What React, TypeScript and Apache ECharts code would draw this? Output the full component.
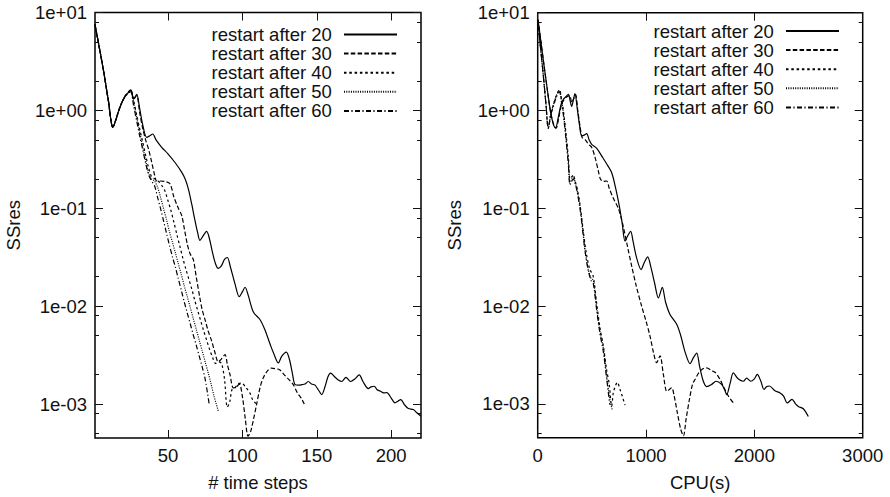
import React, { useEffect, useRef } from 'react';
import * as echarts from 'echarts';

const SERIES_NAMES = ['restart after 20', 'restart after 30', 'restart after 40', 'restart after 50', 'restart after 60'];

// Left panel: SSres vs # time steps
const LEFT_20 = [[1,7.5],[4,4.3],[7,2.4],[10,1.25],[13,0.67],[15,0.8],[17,1.0],[19,1.2],[21,1.38],[23,1.5],[25,1.62],[27,1.3],[29,1.46],[31,1.05],[33,0.72],[35.7,0.53],[37.8,0.55],[39.8,0.574],[42,0.5],[45.8,0.42],[50,0.36],[55,0.29],[59.2,0.234],[61.5,0.2],[63.7,0.158],[66,0.11],[68,0.077],[70,0.056],[71.5,0.047],[73.5,0.052],[76,0.058],[78,0.048],[80,0.035],[82,0.027],[83.8,0.0243],[86,0.026],[88,0.03],[89.9,0.0314],[92,0.025],[95,0.017],[97.9,0.0125],[100,0.014],[101.8,0.0156],[104,0.0128],[107.4,0.0087],[111.8,0.0073],[115,0.0058],[118.6,0.0041],[121,0.0033],[124.2,0.00263],[126.4,0.00307],[129.5,0.0034],[131.5,0.0029],[133.5,0.0021],[135.4,0.00158],[138,0.00156],[140,0.00158],[142,0.0016],[144.3,0.0017],[146.5,0.0016],[148.8,0.00156],[151,0.0014],[153.3,0.00125],[155.5,0.0015],[157.5,0.0019],[159.3,0.00207],[162,0.0019],[164.5,0.00176],[166.7,0.0017],[169.6,0.00187],[172.7,0.0017],[175.5,0.0018],[178.5,0.00199],[181,0.0017],[184.6,0.00144],[186.5,0.0015],[188.6,0.00152],[190.5,0.0014],[192.5,0.00136],[195,0.0013],[197,0.00131],[200,0.00115],[202.5,0.00103],[204.5,0.00107],[206.4,0.00111],[209,0.00098],[211.5,0.0009],[214.8,0.00088],[217,0.00082],[220,0.00075]];
const LEFT_30 = [[1,7.5],[4,4.3],[7,2.4],[10,1.25],[13,0.67],[15,0.8],[17,1.0],[19,1.2],[21,1.38],[23,1.5],[25,1.6],[27,1.3],[29,1.42],[31,0.95],[33,0.66],[35,0.5],[37,0.4],[39,0.3],[41,0.22],[42.5,0.19],[45,0.19],[48,0.188],[51.4,0.178],[54,0.13],[57,0.1],[59.2,0.085],[61,0.062],[63,0.043],[64.8,0.0345],[67,0.03],[69,0.02],[71.5,0.012],[73,0.0092],[75,0.0072],[77,0.0056],[79.4,0.0044],[81.5,0.0034],[83.8,0.0027],[86,0.0029],[88.3,0.0032],[90,0.0025],[91.7,0.002],[93.9,0.00146],[96,0.0015],[98,0.0016],[100,0.0012],[102,0.0007],[103.8,0.00047],[105.5,0.00052],[107.5,0.0007],[109.6,0.001],[112,0.0015],[114,0.00185],[117,0.0022],[119.6,0.00233],[122,0.0023],[125,0.00224],[128,0.002],[131,0.0018],[134.2,0.00158],[137,0.0013],[139.5,0.00115],[141.6,0.001]];
const LEFT_40 = [[1,7.5],[4,4.3],[7,2.4],[10,1.25],[13,0.67],[15,0.8],[17,1.0],[19,1.2],[21,1.38],[23,1.52],[25,1.62],[27,1.25],[29,0.9],[31,0.65],[33,0.48],[35,0.35],[37,0.26],[39,0.21],[41,0.2],[43.5,0.19],[46,0.17],[48,0.15],[50,0.12],[52,0.095],[54,0.072],[56,0.054],[58,0.041],[60,0.031],[62,0.024],[64,0.019],[66,0.015],[68,0.0115],[70,0.009],[72,0.0071],[74,0.0056],[76,0.0045],[78,0.0036],[80,0.003],[82,0.0026],[84,0.0027],[86,0.0026],[88,0.0018],[89.9,0.00093],[91.5,0.00105],[93,0.0014],[95,0.00146],[97,0.0016],[99.5,0.00164],[102,0.0015],[105,0.0013],[107,0.0011],[109.6,0.001]];
const LEFT_50 = [[1,7.5],[4,4.3],[7,2.4],[10,1.25],[13,0.67],[15,0.8],[17,1.0],[19,1.2],[21,1.38],[23,1.5],[25,1.6],[27,1.2],[29,0.85],[31,0.6],[33,0.43],[35,0.31],[37,0.23],[39,0.2],[41,0.19],[43,0.165],[45,0.13],[47,0.1],[49,0.077],[51,0.058],[53,0.045],[55,0.035],[57,0.027],[59,0.021],[61,0.016],[63,0.0125],[65,0.0097],[67,0.0075],[69,0.0058],[71,0.0045],[73,0.0035],[75,0.0027],[77,0.0021],[79,0.0016],[81,0.0012],[83.8,0.00085]];
const LEFT_60 = [[1,7.5],[4,4.3],[7,2.4],[10,1.25],[13,0.67],[15,0.8],[17,1.0],[19,1.2],[21,1.36],[23,1.48],[25,1.55],[27,1.1],[29,0.78],[31,0.55],[33,0.4],[35,0.29],[37,0.22],[39,0.19],[41,0.17],[43,0.13],[45,0.1],[47,0.075],[49,0.056],[51,0.042],[53,0.032],[55,0.025],[57,0.019],[59,0.0145],[61,0.011],[63,0.0085],[65,0.0066],[67,0.0051],[69,0.004],[71,0.0031],[73,0.0024],[75,0.0018],[77.8,0.00098]];

// Right panel: SSres vs CPU(s)
const RIGHT_20 = [[3,8.5],[30,5.0],[60,2.8],[90,1.6],[120,0.95],[145,0.72],[165,0.66],[190,0.85],[215,1.15],[237,1.3],[260,1.38],[283,1.46],[300,1.25],[314,1.1],[330,1.3],[344,1.49],[365,1.05],[385,0.72],[406,0.55],[430,0.56],[452,0.58],[475,0.5],[498,0.45],[545,0.41],[600,0.33],[640,0.28],[683,0.231],[720,0.16],[750,0.11],[780,0.07],[806,0.046],[830,0.052],[858,0.058],[880,0.046],[910,0.032],[954,0.0236],[985,0.028],[1015,0.0318],[1045,0.025],[1080,0.017],[1114,0.0121],[1150,0.0155],[1180,0.011],[1221,0.0082],[1283,0.0065],[1320,0.005],[1360,0.0034],[1406,0.00258],[1440,0.003],[1468,0.0033],[1495,0.0024],[1529,0.0017],[1560,0.0015],[1606,0.00158],[1646,0.0017],[1698,0.00158],[1725,0.0014],[1745,0.00124],[1775,0.0016],[1806,0.00207],[1850,0.0018],[1898,0.0017],[1929,0.00183],[1966,0.0017],[2000,0.0018],[2027,0.002],[2060,0.0017],[2089,0.0014],[2115,0.0015],[2138,0.00152],[2190,0.00136],[2237,0.00129],[2270,0.0012],[2304,0.00102],[2347,0.00111],[2380,0.001],[2406,0.00094],[2452,0.00089],[2498,0.00074]];
const RIGHT_30 = [[3,8.5],[30,5.0],[60,2.8],[90,1.6],[120,0.95],[150,0.7],[170,0.66],[195,0.85],[220,1.15],[245,1.3],[270,1.38],[295,1.42],[315,1.2],[330,1.3],[350,1.45],[370,1.0],[390,0.7],[410,0.53],[440,0.5],[470,0.45],[498,0.42],[530,0.33],[560,0.24],[580,0.198],[606,0.188],[637,0.19],[660,0.16],[700,0.125],[744,0.1],[770,0.08],[790,0.065],[830,0.04],[868,0.0255],[910,0.016],[960,0.0099],[1000,0.007],[1037,0.0049],[1070,0.0033],[1098,0.00263],[1129,0.0031],[1160,0.002],[1191,0.00134],[1215,0.0014],[1237,0.00146],[1260,0.0012],[1290,0.0008],[1320,0.00055],[1345,0.00047],[1370,0.0007],[1400,0.0011],[1430,0.0016],[1452,0.00177],[1490,0.0021],[1529,0.0023],[1560,0.00233],[1600,0.0022],[1637,0.0021],[1680,0.0018],[1714,0.0015],[1760,0.0012],[1806,0.00102]];
const RIGHT_40 = [[3,8],[25,4.5],[50,2.4],[75,1.2],[98,0.66],[120,0.9],[145,1.15],[170,1.4],[200,1.63],[220,1.3],[237,1.0],[260,0.6],[283,0.33],[298,0.2],[315,0.21],[329,0.22],[345,0.19],[360,0.168],[390,0.11],[421,0.058],[450,0.034],[480,0.024],[513,0.02],[545,0.0105],[575,0.006],[606,0.0039],[637,0.0022],[660,0.0016],[683,0.00095],[698,0.0013],[715,0.0015],[735,0.00166],[760,0.0014],[780,0.0012],[806,0.00097]];
const RIGHT_50 = [[3,8],[25,4.5],[50,2.4],[75,1.2],[98,0.66],[120,0.9],[145,1.15],[170,1.4],[200,1.6],[220,1.25],[237,0.95],[260,0.55],[283,0.3],[298,0.18],[315,0.2],[329,0.21],[345,0.185],[360,0.16],[390,0.105],[421,0.055],[436,0.038],[467,0.0236],[495,0.019],[513,0.0185],[545,0.0095],[575,0.0055],[606,0.0037],[637,0.0019],[667,0.0011],[690,0.00085]];
const RIGHT_60 = [[3,8],[25,4.5],[50,2.4],[75,1.2],[98,0.66],[120,0.9],[145,1.1],[170,1.35],[200,1.55],[220,1.2],[237,0.9],[260,0.52],[283,0.28],[298,0.174],[315,0.19],[329,0.2],[345,0.18],[360,0.155],[390,0.1],[421,0.052],[436,0.037],[467,0.023],[495,0.018],[513,0.017],[545,0.009],[575,0.0052],[606,0.0034],[637,0.0018],[665,0.00098]];

const LEFT_DATA = [LEFT_20, LEFT_30, LEFT_40, LEFT_50, LEFT_60];
const RIGHT_DATA = [RIGHT_20, RIGHT_30, RIGHT_40, RIGHT_50, RIGHT_60];

const Y_MIN = 4.5e-4;
const Y_MAX = 10;
const Y_MAJOR = [1e-3, 1e-2, 1e-1, 1, 10];
const Y_MINOR = [5e-4, 8e-4, 2e-3, 5e-3, 8e-3, 2e-2, 5e-2, 8e-2, 0.2, 0.5, 0.8, 2, 5, 8];
const LEFT_X_RANGE = [1, 220];
const LEFT_X_TICKS = [50, 100, 150, 200];
const RIGHT_X_RANGE = [0, 3000];
const RIGHT_X_TICKS = [0, 1000, 2000, 3000];

const LINE_TYPES: any[] = ['solid', [4.5, 2.3], [2.5, 2.8], [1, 1.3], [5, 2.4, 1.2, 2.4]];
const FONT = "'Liberation Sans', Arial, Helvetica, sans-serif";
const INK = '#111';
const FS = 18.5;

function fmtY(v: number) {
  const e = Math.round(Math.log10(v));
  const a = Math.abs(e);
  return '1e' + (e < 0 ? '-' : '+') + (a < 10 ? '0' + a : String(a));
}

export default function App() {
  const ref = useRef<HTMLDivElement>(null);
  useEffect(() => {
    if (!ref.current) return;
    const chart = echarts.init(ref.current, undefined, { renderer: 'svg' });

    const grids = [
      { left: 95, right: 469, top: 12.5, bottom: 57 },
      { left: 537.7, right: 27.3, top: 12.7, bottom: 59.3 },
    ];
    const xAxes: any[] = [];
    const yAxes: any[] = [];
    const panels = [
      { range: LEFT_X_RANGE, ticks: LEFT_X_TICKS, name: '# time steps' },
      { range: RIGHT_X_RANGE, ticks: RIGHT_X_TICKS, name: 'CPU(s)' },
    ];
    panels.forEach((p, g) => {
      xAxes.push({
        gridIndex: g, type: 'value', position: 'bottom', min: p.range[0], max: p.range[1],
        axisLine: { show: false, onZero: false },
        axisTick: { show: true, inside: true, length: 8, customValues: p.ticks, lineStyle: { color: INK, width: 1 } },
        axisLabel: { show: true, customValues: p.ticks, formatter: (v: number) => String(v), margin: 8, color: INK, fontSize: FS, fontFamily: FONT },
        splitLine: { show: false },
        name: p.name, nameLocation: 'middle', nameGap: 35,
        nameTextStyle: { color: INK, fontSize: FS, fontFamily: FONT },
      });
      xAxes.push({
        gridIndex: g, type: 'value', position: 'top', min: p.range[0], max: p.range[1],
        axisLine: { show: false, onZero: false },
        axisTick: { show: true, inside: true, length: 8, customValues: p.ticks, lineStyle: { color: INK, width: 1 } },
        axisLabel: { show: false },
        splitLine: { show: false },
      });
      (['left', 'right'] as const).forEach((pos) => {
        yAxes.push({
          gridIndex: g, type: 'log', logBase: 10, position: pos, min: Y_MIN, max: Y_MAX,
          axisLine: { show: false },
          axisTick: { show: true, inside: true, length: 8, customValues: Y_MAJOR, lineStyle: { color: INK, width: 1 } },
          axisLabel: pos === 'left'
            ? { show: true, customValues: Y_MAJOR, formatter: fmtY, margin: 8, color: INK, fontSize: FS, fontFamily: FONT }
            : { show: false },
          splitLine: { show: false },
          name: pos === 'left' ? 'SSres' : '', nameLocation: 'middle', nameGap: g === 0 ? 72 : 73.5, nameRotate: 90,
          nameTextStyle: { color: INK, fontSize: FS, fontFamily: FONT },
        });
        yAxes.push({
          gridIndex: g, type: 'log', logBase: 10, position: pos, min: Y_MIN, max: Y_MAX,
          axisLine: { show: false },
          axisTick: { show: true, inside: true, length: 4, customValues: Y_MINOR, lineStyle: { color: INK, width: 1 } },
          axisLabel: { show: false },
          splitLine: { show: false },
        });
      });
    });

    const series: any[] = [];
    [LEFT_DATA, RIGHT_DATA].forEach((set, g) => {
      set.forEach((d, i) => {
        series.push({
          type: 'line', name: SERIES_NAMES[i], data: d,
          xAxisIndex: g * 2, yAxisIndex: g * 4,
          symbol: 'none', smooth: 0.3,
          lineStyle: { color: '#000', width: 1.2, type: LINE_TYPES[i] },
          itemStyle: { color: '#000' },
          z: 10 - i,
        });
      });
    });

    const legendCommon = {
      orient: 'vertical', align: 'right', itemWidth: 53, itemHeight: 12, itemGap: 0.1,
      padding: 0, selectedMode: false,
      data: SERIES_NAMES,
      formatter: (n: string) => n + ' ',
      itemStyle: { opacity: 0 },
      textStyle: { color: INK, fontSize: FS, fontFamily: FONT, padding: [0, 2, 0, 0] },
    };

    chart.setOption({
      animation: false,
      backgroundColor: '#fff',
      grid: grids.map((gr) => ({ ...gr, show: true, borderColor: '#000', borderWidth: 1.5, backgroundColor: 'transparent' })),
      xAxis: xAxes,
      yAxis: yAxes,
      legend: [
        { ...legendCommon, right: 492, top: 25 },
        { ...legendCommon, right: 50, top: 21.5 },
      ],
      series,
    });
    return () => chart.dispose();
  }, []);
  return <div ref={ref} style={{ position: 'fixed', left: 0, top: 0, width: 890, height: 497 }} />;
}
